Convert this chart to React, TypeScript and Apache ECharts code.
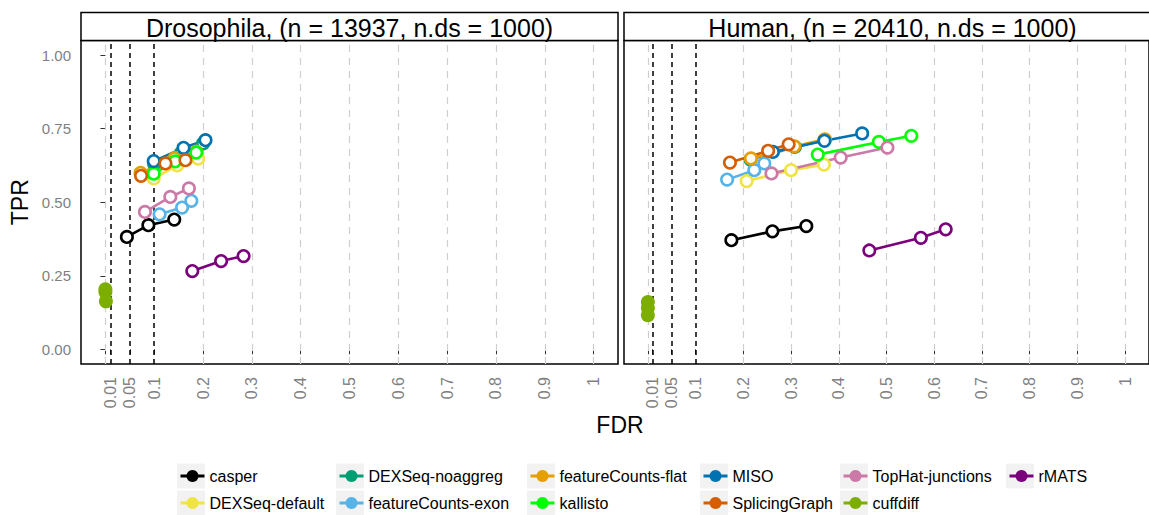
import React, { useEffect, useRef } from "react";
import * as echarts from "echarts";

const FONT = '"Liberation Sans", Arial, Helvetica, sans-serif';

const methods = [
  "casper",
  "DEXSeq-default",
  "DEXSeq-noaggreg",
  "featureCounts-exon",
  "featureCounts-flat",
  "kallisto",
  "MISO",
  "SplicingGraph",
  "TopHat-junctions",
  "cuffdiff",
  "rMATS",
];
const methodColors = [
  "#000000",
  "#F0E442",
  "#009E73",
  "#56B4E9",
  "#E69F00",
  "#00FF00",
  "#0072B2",
  "#D55E00",
  "#CC79A7",
  "#7CAE00",
  "#7B007B",
];
const filledMethods = ["cuffdiff"];

const panelTitles = [
  "Drosophila, (n = 13937, n.ds = 1000)",
  "Human, (n = 20410, n.ds = 1000)",
];

// [FDR, TPR] at thresholds 0.01, 0.05, 0.1 — Drosophila
const dmCasper = [[0.044, 0.382], [0.088, 0.422], [0.141, 0.441]];
const dmDexDefault = [[0.099, 0.581], [0.147, 0.625], [0.19, 0.648]];
const dmDexNoaggreg = [[0.1, 0.63], [0.155, 0.668], [0.2, 0.7]];
const dmFcExon = [[0.111, 0.459], [0.157, 0.482], [0.176, 0.505]];
const dmFcFlat = [[0.072, 0.6], [0.142, 0.65], [0.186, 0.672]];
const dmKallisto = [[0.099, 0.597], [0.143, 0.639], [0.186, 0.669]];
const dmMiso = [[0.099, 0.64], [0.16, 0.685], [0.205, 0.711]];
const dmSplicing = [[0.073, 0.59], [0.123, 0.632], [0.164, 0.643]];
const dmTophat = [[0.081, 0.467], [0.133, 0.518], [0.171, 0.547]];
const dmCuffdiff = [[0.0, 0.204], [0.0, 0.195], [0.001, 0.163]];
const dmRmats = [[0.178, 0.266], [0.237, 0.3], [0.283, 0.317]];

// Human
const hsCasper = [[0.175, 0.371], [0.261, 0.401], [0.332, 0.419]];
const hsDexDefault = [[0.207, 0.572], [0.3, 0.609], [0.369, 0.628]];
const hsDexNoaggreg = [[0.215, 0.645], [0.308, 0.688], [0.37, 0.712]];
const hsFcExon = [[0.166, 0.577], [0.223, 0.609], [0.244, 0.632]];
const hsFcFlat = [[0.216, 0.649], [0.307, 0.69], [0.371, 0.714]];
const hsKallisto = [[0.356, 0.662], [0.484, 0.705], [0.552, 0.726]];
const hsMiso = [[0.262, 0.671], [0.37, 0.709], [0.449, 0.734]];
const hsSplicing = [[0.172, 0.635], [0.252, 0.675], [0.295, 0.697]];
const hsTophat = [[0.259, 0.598], [0.404, 0.652], [0.502, 0.686]];
const hsCuffdiff = [[0.0, 0.161], [0.0, 0.14], [0.0, 0.116]];
const hsRmats = [[0.464, 0.336], [0.572, 0.379], [0.624, 0.408]];

const dmData = [dmCasper, dmDexDefault, dmDexNoaggreg, dmFcExon, dmFcFlat, dmKallisto, dmMiso, dmSplicing, dmTophat, dmCuffdiff, dmRmats];
const hsData = [hsCasper, hsDexDefault, hsDexNoaggreg, hsFcExon, hsFcFlat, hsKallisto, hsMiso, hsSplicing, hsTophat, hsCuffdiff, hsRmats];

const fdrTickValues = [0, 0.01, 0.05, 0.1, 0.2, 0.3, 0.4, 0.5, 0.6, 0.7, 0.8, 0.9, 1];
const fdrLabelValues = [0.01, 0.05, 0.1, 0.2, 0.3, 0.4, 0.5, 0.6, 0.7, 0.8, 0.9, 1];
const fdrLabels = ["0.01", "0.05", "0.1", "0.2", "0.3", "0.4", "0.5", "0.6", "0.7", "0.8", "0.9", "1"];
const fdrGridValues = [0, 0.2, 0.3, 0.4, 0.5, 0.6, 0.7, 0.8, 0.9, 1];
const fdrThresholds = [0.01, 0.05, 0.1];
const tprTickValues = [0, 0.25, 0.5, 0.75, 1];

// legend layout: [textLeft, rowCenter] per method
const legendCols = [208, 208, 367, 367, 558, 558, 731, 731, 871, 871, 1037];
const legendRows = [476, 503, 476, 503, 476, 503, 476, 503, 476, 503, 476];

const panels = [
  { left: 81, width: 537 },
  { left: 624, width: 537 },
];
const PANEL_TOP = 40.5;
const PANEL_H = 323.5;

export default function App() {
  const ref = useRef<HTMLDivElement>(null);

  useEffect(() => {
    if (!ref.current) return;
    const chart = echarts.init(ref.current, undefined, { renderer: "svg" });

    const grids = panels.map((p) => ({
      left: p.left,
      top: PANEL_TOP,
      width: p.width,
      height: PANEL_H,
      show: true,
      borderColor: "#000",
      borderWidth: 1.5,
      backgroundColor: "#fff",
      containLabel: false,
    }));

    const xAxes = panels.map((_, i) => ({
      gridIndex: i,
      type: "value",
      min: -0.05,
      max: 1.05,
      axisLine: { show: false },
      splitLine: { show: false },
      axisTick: {
        show: true,
        customValues: fdrTickValues,
        length: 5,
        lineStyle: { color: "#333", width: 1 },
      },
      axisLabel: {
        customValues: fdrLabelValues,
        rotate: 90,
        margin: 13,
        color: "#7F7F7F",
        fontSize: 16,
        fontFamily: FONT,
        formatter: (v: number) => {
          const idx = fdrLabelValues.findIndex((t) => Math.abs(t - v) < 1e-9);
          return idx >= 0 ? fdrLabels[idx] : "";
        },
      },
    }));

    const yAxes = panels.map((_, i) => ({
      gridIndex: i,
      type: "value",
      min: -0.05,
      max: 1.05,
      axisLine: { show: false },
      splitLine: { show: false },
      axisTick: {
        show: i === 0,
        customValues: tprTickValues,
        length: 5,
        lineStyle: { color: "#333", width: 1 },
      },
      axisLabel: {
        show: i === 0,
        customValues: tprTickValues,
        margin: 10,
        color: "#7F7F7F",
        fontSize: 15,
        fontFamily: FONT,
        formatter: (v: number) => v.toFixed(2),
      },
      name: i === 0 ? "TPR" : "",
      nameLocation: "middle",
      nameRotate: 90,
      nameGap: 50,
      nameTextStyle: { fontSize: 23, fontFamily: FONT, color: "#000" },
    }));

    const series: any[] = [];
    panels.forEach((_, p) => {
      series.push({
        type: "line",
        xAxisIndex: p,
        yAxisIndex: p,
        data: [],
        silent: true,
        markLine: {
          silent: true,
          z: 1,
          animation: false,
          symbol: ["none", "none"],
          label: { show: false },
          lineStyle: { color: "#CFCFCF", type: [7, 6], width: 1.2 },
          data: fdrGridValues.map((v) => ({ xAxis: v })),
        },
      });
      series.push({
        type: "line",
        xAxisIndex: p,
        yAxisIndex: p,
        data: [],
        silent: true,
        markLine: {
          silent: true,
          z: 2,
          animation: false,
          symbol: ["none", "none"],
          label: { show: false },
          lineStyle: { color: "#000", type: [5, 4], width: 1.5 },
          data: fdrThresholds.map((v) => ({ xAxis: v })),
        },
      });
      const panelData = p === 0 ? dmData : hsData;
      methods.forEach((m, k) => {
        const col = methodColors[k];
        const filled = filledMethods.includes(m);
        series.push({
          type: "line",
          name: m,
          xAxisIndex: p,
          yAxisIndex: p,
          z: 3,
          data: panelData[k],
          symbol: "circle",
          symbolSize: filled ? 14 : 11.5,
          showSymbol: true,
          lineStyle: { color: col, width: 2.6 },
          itemStyle: filled
            ? { color: col, borderColor: col, borderWidth: 0 }
            : { color: "#fff", borderColor: col, borderWidth: 2.6 },
          emphasis: { disabled: true },
        });
      });
    });

    const legends = methods.map((m, k) => ({
      show: true,
      left: legendCols[k] - 29,
      top: legendRows[k] - 8,
      padding: 0,
      itemWidth: 24,
      itemHeight: 15,
      itemGap: 0,
      selectedMode: false,
      textStyle: { fontSize: 16, fontFamily: FONT, color: "#000" },
      data: [
        {
          name: m,
          itemStyle: { color: methodColors[k], borderColor: methodColors[k], borderWidth: 0 },
          lineStyle: { color: methodColors[k], width: 3 },
        },
      ],
    }));

    const graphics: any[] = [];
    panels.forEach((p, i) => {
      graphics.push({
        type: "rect",
        z: 10,
        shape: { x: p.left, y: 12.5, width: p.width, height: PANEL_TOP - 12.5 },
        style: { fill: "#fff", stroke: "#000", lineWidth: 1.5 },
      });
      graphics.push({
        type: "text",
        z: 11,
        x: p.left + p.width / 2,
        y: 27.5,
        style: {
          text: panelTitles[i],
          fontSize: 25,
          fontFamily: FONT,
          fill: "#000",
          textAlign: "center",
          textVerticalAlign: "middle",
        },
      });
    });
    graphics.push({
      type: "text",
      x: 620,
      y: 425,
      style: {
        text: "FDR",
        fontSize: 23,
        fontFamily: FONT,
        fill: "#000",
        textAlign: "center",
        textVerticalAlign: "middle",
      },
    });
    methods.forEach((_, k) => {
      graphics.push({
        type: "rect",
        z: -1,
        shape: { x: legendCols[k] - 31, y: legendRows[k] - 12.5, width: 28, height: 25 },
        style: { fill: "#F2F2F2" },
      });
    });

    chart.setOption({
      animation: false,
      backgroundColor: "#fff",
      grid: grids,
      xAxis: xAxes,
      yAxis: yAxes,
      legend: legends,
      graphic: graphics,
      series,
    });

    return () => chart.dispose();
  }, []);

  return (
    <div
      ref={ref}
      style={{ position: "absolute", left: 0, top: 0, width: 1149, height: 515 }}
    />
  );
}
